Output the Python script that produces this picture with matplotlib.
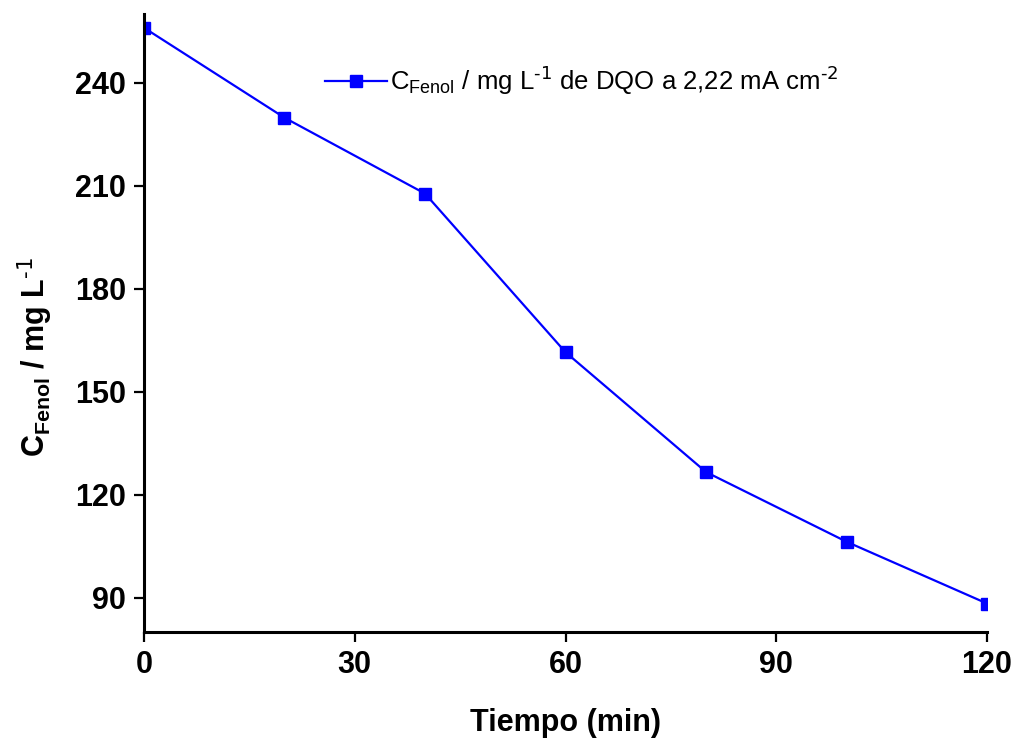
import matplotlib
matplotlib.use('Agg')
import matplotlib.pyplot as plt

# datos
tiempo = [0, 20, 40, 60, 80, 100, 120]
c_fenol = [256.0, 229.8, 207.7, 161.5, 126.6, 106.3, 88.3]
x_ticks = [0, 30, 60, 90, 120]
y_ticks = [90, 120, 150, 180, 210, 240]

plt.rcParams['font.family'] = ['Liberation Sans', 'DejaVu Sans']
plt.rcParams['mathtext.default'] = 'regular'

fig = plt.figure(figsize=(10.16, 7.38), dpi=100)
ax = fig.add_axes([0.1417, 0.1436, 0.8298, 0.8374])

ax.plot(tiempo, c_fenol, color='#0000FF', lw=1.6, marker='s', ms=8,
        label=r'C$_{Fenol}$ / mg L$^{\text{-1}}$ de DQO a 2,22 mA cm$^{\text{-2}}$')

ax.set_xlim(0, 120)
ax.set_ylim(80, 260)
ax.set_xticks(x_ticks)
ax.set_yticks(y_ticks)

for s in ['top', 'right']:
    ax.spines[s].set_visible(False)
for s in ['left', 'bottom']:
    ax.spines[s].set_linewidth(2.2)

ax.tick_params(direction='out', length=7, width=1.6, labelsize=22, pad=6)
for lab in ax.get_xticklabels() + ax.get_yticklabels():
    lab.set_fontweight('bold')

ax.set_xlabel('Tiempo (min)', fontsize=22, fontweight='bold', labelpad=20)
ax.set_ylabel(r'C$_{Fenol}$ / mg L$^{\text{-1}}$', fontsize=22, fontweight='bold')
ax.yaxis.set_label_coords(-0.106, 0.445)

leg = ax.legend(loc='upper left', bbox_to_anchor=(0.2147, 0.919), frameon=False,
                fontsize=18.5, handlelength=2.4, handletextpad=0.15,
                borderpad=0, borderaxespad=0)

fig.savefig('out.png', dpi=100)
